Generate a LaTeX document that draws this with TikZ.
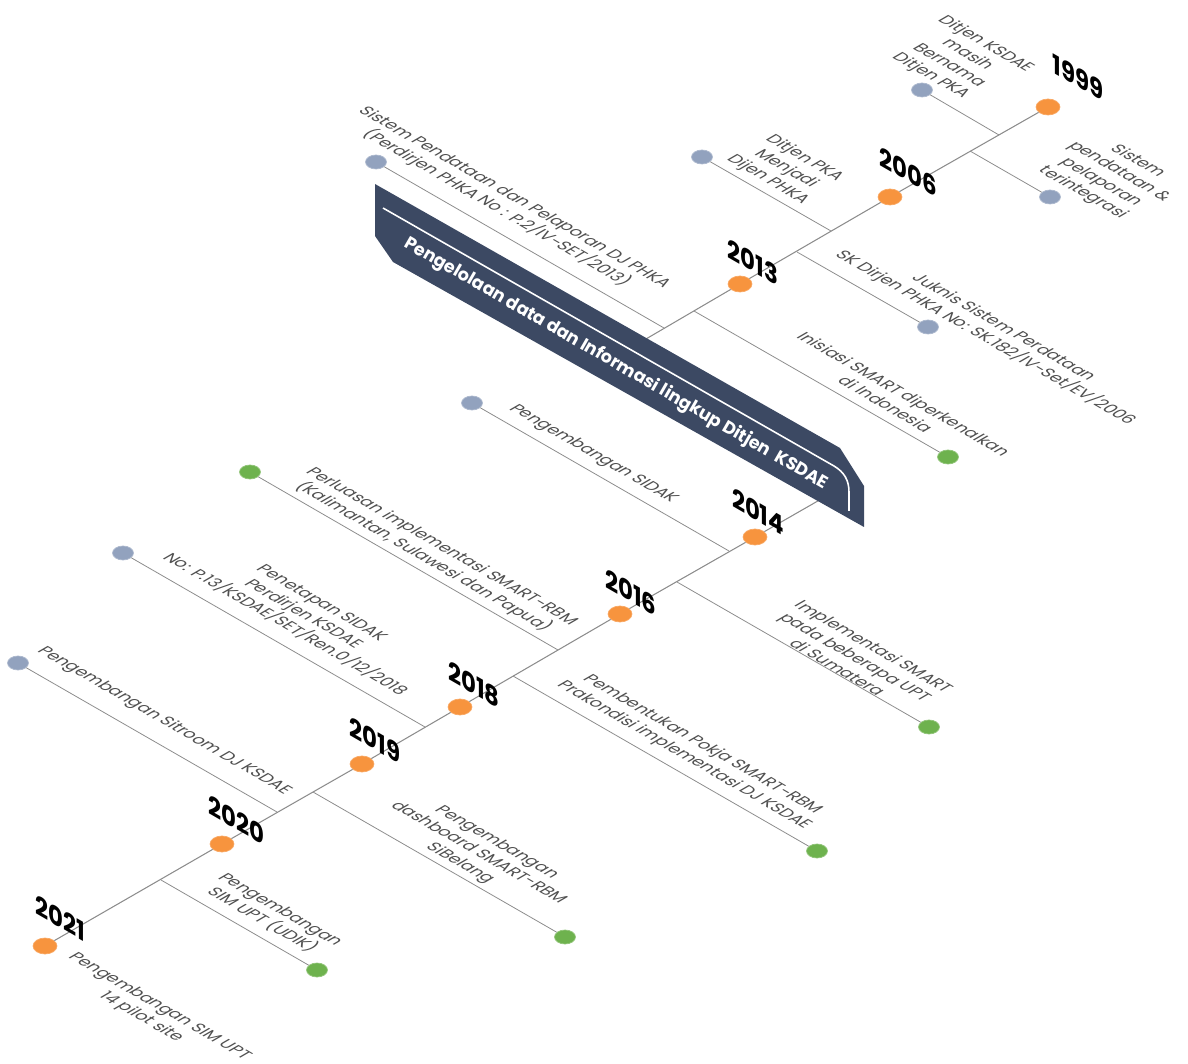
\documentclass[tikz,border=0pt]{standalone}
\usepackage{fontspec}
\setmainfont{Poppins}
\usetikzlibrary{shapes.geometric}
\definecolor{dotorange}{RGB}{247,148,62}
\definecolor{dotgray}{RGB}{146,162,190}
\definecolor{dotgreen}{RGB}{110,178,78}
\definecolor{linegray}{RGB}{140,140,140}
\definecolor{notegray}{RGB}{80,80,80}
\definecolor{bannerblue}{RGB}{60,73,99}
\begin{document}
\begin{tikzpicture}[x=0.02cm, y=-0.02cm,
    spine/.style={draw=linegray, line width=0.6pt},
    twig/.style={draw=linegray, line width=0.45pt},
    yeardot/.style={ellipse, fill=dotorange, draw=dotorange!80!white, minimum width=0.48cm, minimum height=0.32cm, inner sep=0},
    infodot/.style={ellipse, fill=#1, draw=#1!75!white, minimum width=0.42cm, minimum height=0.28cm, inner sep=0},
    yearlabel/.style={transform shape, cm={0.866,-0.5,0,1,(0,0)}, font=\fontsize{15}{15}\selectfont\bfseries, text=black, inner sep=0},
    note/.style={transform shape, cm={0.866,-0.5,0.866,0.5,(0,0)}, align=center, font=\fontsize{9.5}{12}\selectfont, text=notegray, inner sep=0},
    bannertext/.style={transform shape, rotate=-30, font=\fontsize{10}{12}\selectfont\bfseries, text=white, inner sep=0}]
  \useasboundingbox (0,0) rectangle (1188,1064);

  \node[yeardot] (d1999) at (1048,107) {};
  \node[yeardot] (d2006) at (890,197) {};
  \node[yeardot] (d2013) at (740,284) {};
  \node[yeardot] (d2014) at (755,537) {};
  \node[yeardot] (d2016) at (620,614) {};
  \node[yeardot] (d2018) at (460,707) {};
  \node[yeardot] (d2019) at (362,764) {};
  \node[yeardot] (d2020) at (222,844) {};
  \node[yeardot] (d2021) at (45,946) {};
  \coordinate (upper end) at (622,353);
  \coordinate (lower end) at (830,494);

  \draw[spine] (d1999) -- (d2006) -- (d2013) -- (upper end);
  \draw[spine] (lower end) -- (d2014) -- (d2016) -- (d2018) -- (d2019) -- (d2020) -- (d2021);

  \node[infodot=dotgray] (pka) at (922,90) {};
  \node[infodot=dotgray] (terpadu) at (1050,197) {};
  \node[infodot=dotgray] (phka) at (702,157) {};
  \node[infodot=dotgray] (juknis) at (928,327) {};
  \node[infodot=dotgray] (djphka) at (376,162) {};
  \node[infodot=dotgreen] (inisiasi) at (948,457) {};
  \node[infodot=dotgray] (sidak) at (472,403) {};
  \node[infodot=dotgreen] (sumatera) at (929,727) {};
  \node[infodot=dotgreen] (perluasan) at (250,472) {};
  \node[infodot=dotgray] (penetapan) at (123,553) {};
  \node[infodot=dotgreen] (pokja) at (817,851) {};
  \node[infodot=dotgray] (sitroom) at (18,663) {};
  \node[infodot=dotgreen] (sibelang) at (565,937) {};
  \node[infodot=dotgreen] (udik) at (317,970) {};

  \coordinate (j pka) at (999,135);
  \coordinate (j terpadu) at (970,151);
  \coordinate (j phka) at (831,231);
  \coordinate (j juknis) at (797,252);
  \coordinate (j djphka) at (664,328);
  \coordinate (j inisiasi) at (694,311);
  \coordinate (j sidak) at (729,551);
  \coordinate (j sumatera) at (677,582);
  \coordinate (j perluasan) at (558,650);
  \coordinate (j penetapan) at (425,727);
  \coordinate (j pokja) at (513,676);
  \coordinate (j sitroom) at (277,812);
  \coordinate (j sibelang) at (313,792);
  \coordinate (j udik) at (161,880);

  \draw[twig] (pka) -- (j pka);
  \draw[twig] (terpadu) -- (j terpadu);
  \draw[twig] (phka) -- (j phka);
  \draw[twig] (juknis) -- (j juknis);
  \draw[twig] (djphka) -- (j djphka);
  \draw[twig] (inisiasi) -- (j inisiasi);
  \draw[twig] (sidak) -- (j sidak);
  \draw[twig] (sumatera) -- (j sumatera);
  \draw[twig] (perluasan) -- (j perluasan);
  \draw[twig] (penetapan) -- (j penetapan);
  \draw[twig] (pokja) -- (j pokja);
  \draw[twig] (sitroom) -- (j sitroom);
  \draw[twig] (sibelang) -- (j sibelang);
  \draw[twig] (udik) -- (j udik);

  \node[yearlabel] (y1999) at (1078,77) {1999};
  \node[yearlabel] (y2006) at (908,172) {2006};
  \node[yearlabel] (y2013) at (753,262) {2013};
  \node[yearlabel] (y2014) at (758,512) {2014};
  \node[yearlabel] (y2016) at (631,592) {2016};
  \node[yearlabel] (y2018) at (474,685) {2018};
  \node[yearlabel] (y2019) at (375,740) {2019};
  \node[yearlabel] (y2020) at (236,820) {2020};
  \node[yearlabel] (y2021) at (60,918) {2021};

  \node[note] (t pka) at (958,60) {Ditjen KSDAE\\masih\\Bernama\\Ditjen PKA};
  \node[note] (t terpadu) at (1110,177) {Sistem\\pendataan \&\\pelaporan\\terintegrasi};
  \node[note] (t phka) at (786,169) {Ditjen PKA\\Menjadi\\Dijen PHKA};
  \node[note] (t juknis) at (994,333) {Juknis Sistem Perdataan\\SK Dirjen PHKA No: SK.182/IV-Set/EV/2006};
  \node[note] (t inisiasi) at (895,399) {Inisiasi SMART diperkenalkan\\di Indonesia};
  \node[note] (t djphka) at (505,203) {Sistem Pendataan dan Pelaporan DJ PHKA\\(Perdirjen PHKA No : P.2/IV-SET/2013)};
  \node[note] (t sidak) at (593,454) {Pengembangan SIDAK};
  \node[note] (t sumatera) at (856,657) {Implementasi SMART\\pada beberapa UPT\\di Sumatera};
  \node[note] (t perluasan) at (432,552) {Perluasan implementasi SMART-RBM\\(Kalimantan, Sulawesi dan Papua)};
  \node[note] (t penetapan) at (303,614) {Penetapan SIDAK\\Perdirjen KSDAE\\No: P.13/KSDAE/SET/Ren.0/12/2018};
  \node[note] (t pokja) at (693,750) {Pembentukan Pokja SMART-RBM\\Prakondisi implementasi DJ KSDAE};
  \node[note] (t sitroom) at (164,721) {Pengembangan Sitroom DJ KSDAE};
  \node[note] (t sibelang) at (478,853) {Pengembangan\\dashboard SMART-RBM\\SiBelang};
  \node[note] (t udik) at (271,915) {Pengembangan\\SIM UPT (UDIK)};
  \node[note] (t pilot) at (150,1012) {Pengembangan SIM UPT\\14 pilot site};

  \fill[bannerblue] (375,184) -- (840,448) -- (864,486) -- (864,527) -- (393,262) -- (375,236) -- cycle;
  \draw[white, line width=0.9pt] (383,208) -- (834,466) .. controls (844,472) and (849,480) .. (849,492) -- (849,511);
  \node[bannertext] (banner) at (616,364) {Pengelolaan data dan Informasi lingkup Ditjen\ \ KSDAE};
\end{tikzpicture}
\end{document}
